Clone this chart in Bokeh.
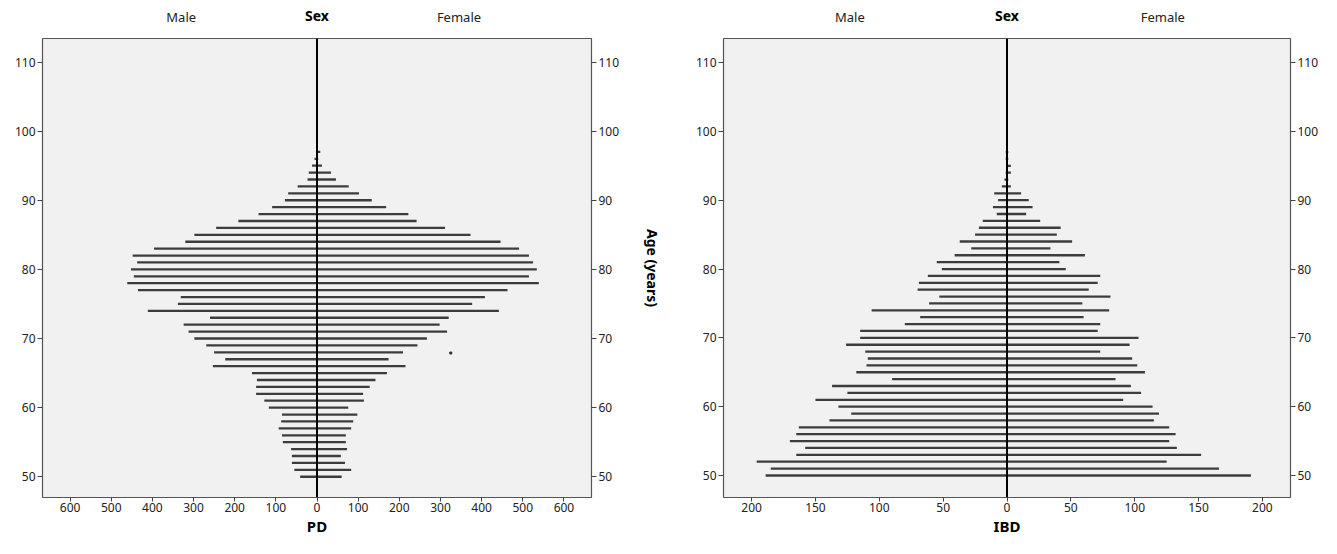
from bokeh.plotting import figure
from bokeh.models import Range1d, LinearAxis, FixedTicker, Span
from bokeh.layouts import row
from bokeh.embed import file_html
from bokeh.resources import INLINE

# ---------------- data ----------------
pd_ages = list(range(50, 103))
pd_male = [41, 55, 61, 61, 63, 83, 85, 93, 87, 85,
           117, 128, 148, 148, 146, 158, 253, 223, 250, 269,
           298, 312, 324, 260, 411, 338, 331, 435, 461, 445,
           452, 437, 448, 396, 320, 298, 245, 191, 142, 109,
           78, 70, 47, 23, 20, 12, 6, 2, 1, 1, 1, 1, 1]
pd_female = [60, 83, 68, 58, 73, 70, 70, 83, 88, 98,
             76, 114, 112, 128, 142, 170, 215, 174, 209, 244,
             267, 316, 298, 320, 442, 377, 408, 463, 539, 515,
             534, 525, 515, 491, 446, 373, 311, 242, 222, 168,
             133, 102, 77, 46, 34, 12, 3, 8, 2, 1, 1, 1, 1]
pd_stray_x = [325]
pd_stray_y = [67.9]

ibd_ages = list(range(50, 98))
ibd_male = [189, 185, 196, 165, 158, 170, 165, 163, 139, 122,
            132, 150, 125, 137, 90, 118, 110, 109, 111, 126,
            115, 115, 80, 68, 106, 61, 53, 70, 69, 62,
            51, 55, 41, 28, 37, 25, 22, 19, 8, 11,
            7, 10, 4, 2, 1, 0, 1, 1]
ibd_female = [191, 166, 125, 152, 133, 127, 132, 127, 115, 119,
              114, 91, 105, 97, 85, 108, 102, 98, 73, 96,
              103, 71, 73, 60, 80, 59, 81, 64, 71, 73,
              46, 41, 61, 34, 51, 39, 42, 26, 15, 20,
              17, 11, 3, 1, 3, 3, 1, 1]

pd_xticks = [-600, -500, -400, -300, -200, -100, 0, 100, 200, 300, 400, 500, 600]
ibd_xticks = [-200, -150, -100, -50, 0, 50, 100, 150, 200]
age_ticks = [50, 60, 70, 80, 90, 100, 110]
side_labels = ["Male", "Female"]
header_title = "Sex"

FONT = "Noto Sans"
TXT = "#222222"


def style_ticks(ax):
    ax.axis_line_color = None
    ax.major_tick_line_color = "#444444"
    ax.major_tick_in = 0
    ax.major_tick_out = 5
    ax.minor_tick_line_color = None
    ax.major_label_text_font = FONT
    ax.major_label_text_font_size = "12px"
    ax.major_label_text_color = TXT


def make_fig(ages, male, female, xmax, xticks, ylo, yhi, width, height,
             mb_left, mb_right, mb_top, mb_bottom, xlabel, right_label,
             side_x, stray=None):
    p = figure(width=width, height=height, output_backend="svg",
               toolbar_location=None,
               x_range=Range1d(-xmax, xmax), y_range=Range1d(ylo, yhi),
               min_border_left=mb_left, min_border_right=mb_right,
               min_border_top=mb_top, min_border_bottom=mb_bottom,
               background_fill_color="#f1f1f1", border_fill_color="white",
               outline_line_color="#555555", outline_line_width=1.2,
               x_axis_location="below", y_axis_location="left")
    p.grid.visible = False

    neg_male = [-m for m in male]
    zeros = [0] * len(ages)
    p.segment(x0=neg_male, y0=ages, x1=zeros, y1=ages,
              line_color="#3c3c3c", line_width=2.3)
    p.segment(x0=zeros, y0=ages, x1=female, y1=ages,
              line_color="#3c3c3c", line_width=2.3)
    if stray is not None:
        p.scatter(x=stray[0], y=stray[1], size=2, color="#333333",
                  marker="square")

    p.add_layout(Span(location=0, dimension="height", line_color="black",
                      line_width=2))

    # bottom axis
    xa = p.xaxis[0]
    xa.ticker = FixedTicker(ticks=xticks)
    xa.major_label_overrides = {t: str(abs(t)) for t in xticks}
    style_ticks(xa)
    xa.major_tick_out = 4
    xa.major_label_standoff = 1
    xa.axis_label = xlabel
    xa.axis_label_text_font = FONT
    xa.axis_label_text_font_style = "bold"
    xa.axis_label_text_font_size = "15px"
    xa.axis_label_text_color = "black"
    xa.axis_label_standoff = 1

    # header axis above: Male / Female as tick labels, Sex as axis label
    top = LinearAxis(ticker=FixedTicker(ticks=side_x))
    top.major_label_overrides = {side_x[0]: side_labels[0],
                                 side_x[1]: side_labels[1]}
    top.axis_line_color = None
    top.major_tick_line_color = None
    top.minor_tick_line_color = None
    top.major_label_standoff = 7
    top.major_label_text_font = FONT
    top.major_label_text_font_size = "13px"
    top.major_label_text_color = TXT
    top.axis_label = header_title
    top.axis_label_text_font = FONT
    top.axis_label_text_font_style = "bold"
    top.axis_label_text_font_size = "14px"
    top.axis_label_text_color = "black"
    top.axis_label_standoff = -20
    p.add_layout(top, "above")

    # y axes left and right
    ya = p.yaxis[0]
    yr = LinearAxis()
    p.add_layout(yr, "right")
    for ax in [ya, yr]:
        ax.ticker = FixedTicker(ticks=age_ticks)
        style_ticks(ax)
        ax.major_label_standoff = 2
    if right_label:
        yr.axis_label = right_label
        yr.axis_label_text_font = FONT
        yr.axis_label_text_font_style = "bold"
        yr.axis_label_text_font_size = "14px"
        yr.axis_label_text_color = "black"
        yr.axis_label_standoff = 21
    return p


p1 = make_fig(pd_ages, pd_male, pd_female, 667, pd_xticks, 47.0, 113.4,
              665, 538, 42, 61, 38, 38, "PD", "Age (years)",
              [-330, 345], stray=(pd_stray_x, pd_stray_y))
p2 = make_fig(ibd_ages, ibd_male, ibd_female, 222, ibd_xticks, 46.8, 113.5,
              656, 538, 58, 28, 36, 38, "IBD", None,
              [-123, 122])

layout = row(p1, p2)
open("out.html", "w").write(file_html(layout, INLINE))
